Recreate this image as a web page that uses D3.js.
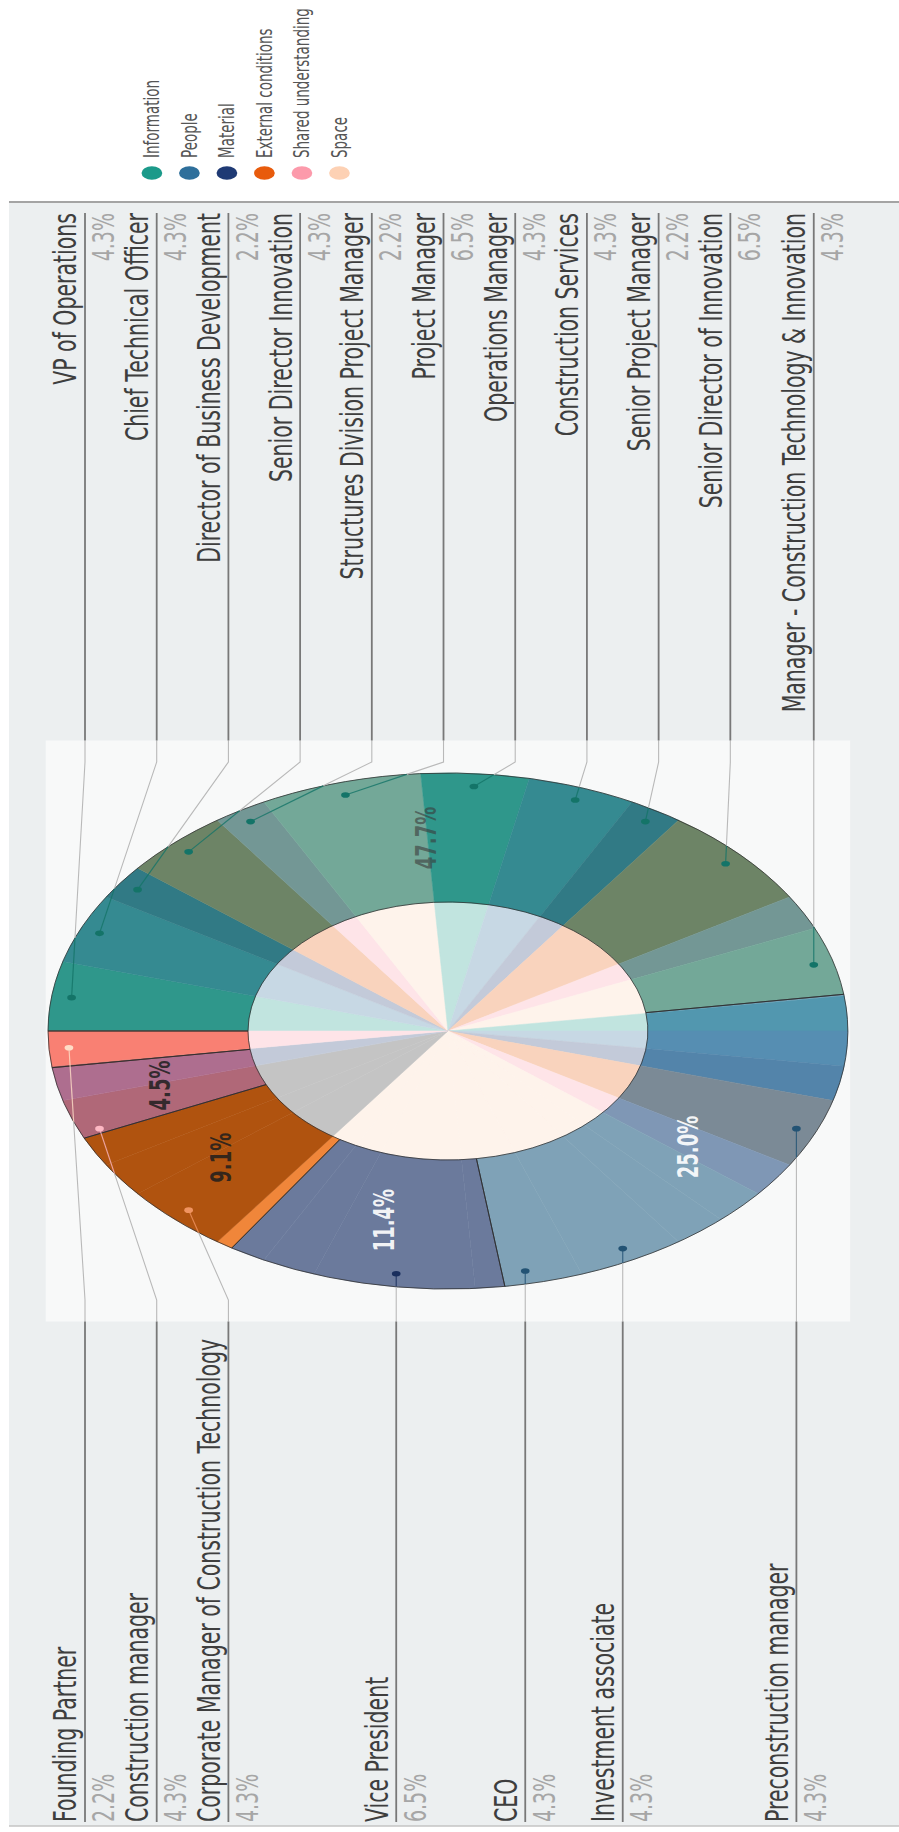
<!DOCTYPE html>
<html>
<head>
<meta charset="utf-8">
<script src="https://cdn.jsdelivr.net/npm/d3@7"></script>
<style>
  html, body { margin: 0; padding: 0; background: #ffffff; }
  svg { display: block; }
</style>
</head>
<body>
<svg id="chart" width="899" height="1832"></svg>
<script>
// ---- data -------------------------------------------------------------
const categories = ["Information", "People", "Material", "External conditions", "Shared understanding", "Space"];
const categoryCounts = [21, 11, 5, 4, 2, 1];

// roles in pie order (clockwise); an empty name means the slice carries no label
const roles = [
  "VP of Operations", "Chief Technical Officer", "Director of Business Development",
  "Senior Director Innovation", "Structures Division Project Manager", "Project Manager",
  "Operations Manager", "Construction Services", "Senior Project Manager",
  "Senior Director of Innovation", "", "Manager - Construction Technology & Innovation",
  "", "", "", "Preconstruction manager", "", "", "", "Investment associate", "CEO",
  "Vice President", "", "", "Corporate Manager of Construction Technology", "",
  "Construction manager", "", "Founding Partner"
];
const roleCounts = [2, 2, 1, 2, 1, 3, 2, 2, 1, 3, 1, 2, 1, 1, 1, 2, 1, 1, 1, 2, 2, 3, 1, 1, 2, 1, 2, 1, 1];
const roleTint = [
  "Information", "People", "Material", "External conditions", "Shared understanding", "Space",
  "Information", "People", "Material", "External conditions", "Shared understanding", "Space",
  "Information", "People", "Material", "External conditions", "Shared understanding", "Space",
  "Space", "Space", "Space", "Space", "Space", "Space",
  "Other", "Other", "Other", "Material", "Shared understanding"
];

// ---- styles -----------------------------------------------------------
const palette = ["#1b9a8a", "#2e6f9b", "#1f3a74", "#e85b0c", "#fc9aab", "#fdd1b4"];
const ringBase = ["#38968c", "#6096b8", "#2c5591", "#eb6605", "#eb849b", "#f8755b"];
const ringMix = [0.3, 0.2, 0.3, 0.3, 0.3, 0.3];
const labelInk = [["#3a3a3a", 0.6], ["#ffffff", 0.92], ["#ffffff", 0.92], ["#1e1e1e", 0.85], ["#1e1e1e", 0.85], ["#1e1e1e", 0.85]];
const dotMix = [["#000", 0.25], ["#000", 0.25], ["#000", 0.2], ["#fff", 0.35], ["#fff", 0.3], ["#fff", 0.25]];
const colour = d3.scaleOrdinal().domain(categories).range(palette);
const tintColour = d3.scaleOrdinal().domain(categories.concat("Other")).range(palette.concat("#262626"));

// ---- frame: the chart is laid out sideways and stretched across -------
const W = 899, H = 1832, stretch = 1.55;
const svg = d3.select("#chart");
const g = svg.append("g").attr("transform", `matrix(0,-1,${stretch},0,0,${H})`);
const frameH = W / stretch;

const font = "'DejaVu Sans', sans-serif";
const cx = 801, cy = 289, R = 258, innerR = R / 2;
const boxHalfW = 290.5, boxHalfH = 259.5;
const panel = { x0: 6, x1: 1630 };
const labelRight = 1619, labelLeft = 10;
const gap = 46.26, slotMin = 54.84;

// panel and plot box
g.append("rect").attr("x", panel.x0).attr("y", 5.8)
  .attr("width", panel.x1 - panel.x0).attr("height", frameH)
  .attr("fill", "#eceff0");
g.append("line").attr("x1", panel.x1).attr("x2", panel.x1).attr("y1", 5.8).attr("y2", frameH + 2)
  .attr("stroke", "#a4a4a4").attr("stroke-width", 2).attr("vector-effect", "non-scaling-stroke");
g.append("line").attr("x1", panel.x0).attr("x2", panel.x0).attr("y1", 5.8).attr("y2", frameH + 2)
  .attr("stroke", "#c4c4c4").attr("stroke-width", 1.5).attr("vector-effect", "non-scaling-stroke");
g.append("rect").attr("x", cx - boxHalfW).attr("y", cy - boxHalfH)
  .attr("width", boxHalfW * 2).attr("height", boxHalfH * 2)
  .attr("fill", "#f8f9f9");

// ---- pies --------------------------------------------------------------
const pie = d3.pie().sort(null).value(d => d);
const catArcs = pie(categoryCounts);
const roleArcs = pie(roleCounts);
const totalRoles = d3.sum(roleCounts);
const totalCats = d3.sum(categoryCounts);

// outer ring: every category arc cut by the role arcs under it
const segments = [];
catArcs.forEach((c, i) => roleArcs.forEach((r, j) => {
  const a0 = Math.max(c.startAngle, r.startAngle), a1 = Math.min(c.endAngle, r.endAngle);
  if (a1 - a0 > 1e-6) segments.push({ startAngle: a0, endAngle: a1, cat: i, role: j });
}));
const segFill = d => d3.interpolateRgb(ringBase[d.cat], tintColour(roleTint[d.role]))(ringMix[d.cat]);
const coreFill = (d, i) => d3.interpolateRgb(tintColour(roleTint[i]), "#fff")(0.73);

const pg = g.append("g").attr("transform", `translate(${cx},${cy})`);
const ringArc = d3.arc().innerRadius(innerR).outerRadius(R);
const coreArc = d3.arc().innerRadius(0).outerRadius(innerR);

pg.selectAll("path.core").data(roleArcs).join("path")
  .attr("class", "core")
  .attr("d", coreArc)
  .attr("fill", coreFill)
  .attr("stroke", coreFill)
  .attr("stroke-width", 0.5).attr("vector-effect", "non-scaling-stroke");

pg.selectAll("path.seg").data(segments).join("path")
  .attr("class", "seg")
  .attr("d", ringArc)
  .attr("fill", segFill)
  .attr("stroke", segFill)
  .attr("stroke-width", 0.5).attr("vector-effect", "non-scaling-stroke");

pg.selectAll("path.cat").data(catArcs).join("path")
  .attr("class", "cat")
  .attr("d", ringArc)
  .attr("fill", "none")
  .attr("stroke", "#2b2b2b").attr("stroke-opacity", 0.85)
  .attr("stroke-width", 0.9).attr("vector-effect", "non-scaling-stroke");

// ---- leader lines and role labels -------------------------------------
const catOf = a => catArcs.findIndex(c => a >= c.startAngle && a < c.endAngle);
const pct = d3.format(".1%");
const items = roleArcs.map((a, i) => {
  const mid = (a.startAngle + a.endAngle) / 2;
  const rd = R * 0.95;
  const cat = catOf(mid);
  return {
    name: roles[i], value: roleCounts[i], mid, cat,
    dot: [Math.sin(mid) * rd, -Math.cos(mid) * rd]
  };
}).filter(d => d.name);

const rightSide = items.filter(d => d.mid < Math.PI).sort((a, b) => a.dot[1] - b.dot[1]);
const leftSide = items.filter(d => d.mid >= Math.PI).sort((a, b) => a.dot[1] - b.dot[1]);
function stack(list) {
  let prev = -Infinity;
  list.forEach(d => { d.slot = Math.max(cy + d.dot[1], prev + gap, slotMin); prev = d.slot; });
}
stack(rightSide); stack(leftSide);

function ringExit(p, q, r) {
  const dx = q[0] - p[0], dy = q[1] - p[1];
  const a = dx * dx + dy * dy, b = 2 * (p[0] * dx + p[1] * dy), c = p[0] * p[0] + p[1] * p[1] - r * r;
  const t = (-b + Math.sqrt(b * b - 4 * a * c)) / (2 * a);
  return [p[0] + t * dx, p[1] + t * dy];
}

const lg = g.append("g");
function drawSide(list, dir) {
  const bendX = cx + dir * (R + 11);
  const boxX = cx + dir * boxHalfW;
  const textX = dir > 0 ? labelRight : labelLeft;
  list.forEach(d => {
    const dotAbs = [cx + d.dot[0], cy + d.dot[1]];
    const bendRel = [bendX - cx, d.slot - cy];
    const exitRel = ringExit(d.dot, bendRel, R);
    const exitAbs = [cx + exitRel[0], cy + exitRel[1]];
    const ink = d3.interpolateRgb(palette[d.cat], dotMix[d.cat][0])(dotMix[d.cat][1]);

    lg.append("path")
      .attr("d", d3.line()([exitAbs, [bendX, d.slot], [boxX, d.slot]]))
      .attr("fill", "none").attr("stroke", "#b9b9b9").attr("stroke-width", 1.1)
      .attr("vector-effect", "non-scaling-stroke");
    lg.append("path")
      .attr("d", d3.line()([dotAbs, exitAbs]))
      .attr("fill", "none").attr("stroke", ink).attr("stroke-opacity", 0.8).attr("stroke-width", 1.2)
      .attr("vector-effect", "non-scaling-stroke");
    lg.append("circle").attr("cx", dotAbs[0]).attr("cy", dotAbs[1]).attr("r", 2.8)
      .attr("fill", ink);
    lg.append("line")
      .attr("x1", boxX).attr("x2", textX).attr("y1", d.slot).attr("y2", d.slot)
      .attr("stroke", "#787878").attr("stroke-width", 1.8)
      .attr("vector-effect", "non-scaling-stroke");
    lg.append("text")
      .attr("x", textX).attr("y", d.slot - 5.5)
      .attr("text-anchor", dir > 0 ? "end" : "start")
      .attr("font-family", font).attr("font-size", 20.5).attr("fill", "#3e3e3e")
      .text(d.name);
    lg.append("text")
      .attr("x", textX).attr("y", d.slot + 19)
      .attr("text-anchor", dir > 0 ? "end" : "start")
      .attr("font-family", font).attr("font-size", 19).attr("fill", "#a6a6a6")
      .text(pct(d.value / totalRoles));
  });
}
drawSide(rightSide, 1);
drawSide(leftSide, -1);

// ---- category shares on the ring --------------------------------------
pg.selectAll("text.share").data(catArcs.filter(d => d.data / totalCats >= 0.03)).join("text")
  .attr("class", "share")
  .attr("transform", d => `translate(${ringArc.centroid(d)})`)
  .attr("text-anchor", "middle").attr("dominant-baseline", "central")
  .attr("font-family", font).attr("font-weight", "bold").attr("font-size", 18)
  .attr("fill", d => labelInk[d.index][0]).attr("fill-opacity", d => labelInk[d.index][1])
  .text(d => pct(d.data / totalCats));

// ---- legend -------------------------------------------------------------
const leg = g.append("g").attr("transform", "translate(1659,98)");
const legItem = leg.selectAll("g").data(categories).join("g")
  .attr("transform", (d, i) => `translate(0,${i * 24.2})`);
legItem.append("circle").attr("r", 6.7).attr("fill", d => colour(d));
legItem.append("text").attr("x", 15).attr("dy", "0.35em")
  .attr("font-family", font).attr("font-size", 13.5).attr("fill", "#555")
  .text(d => d);
</script>
</body>
</html>
